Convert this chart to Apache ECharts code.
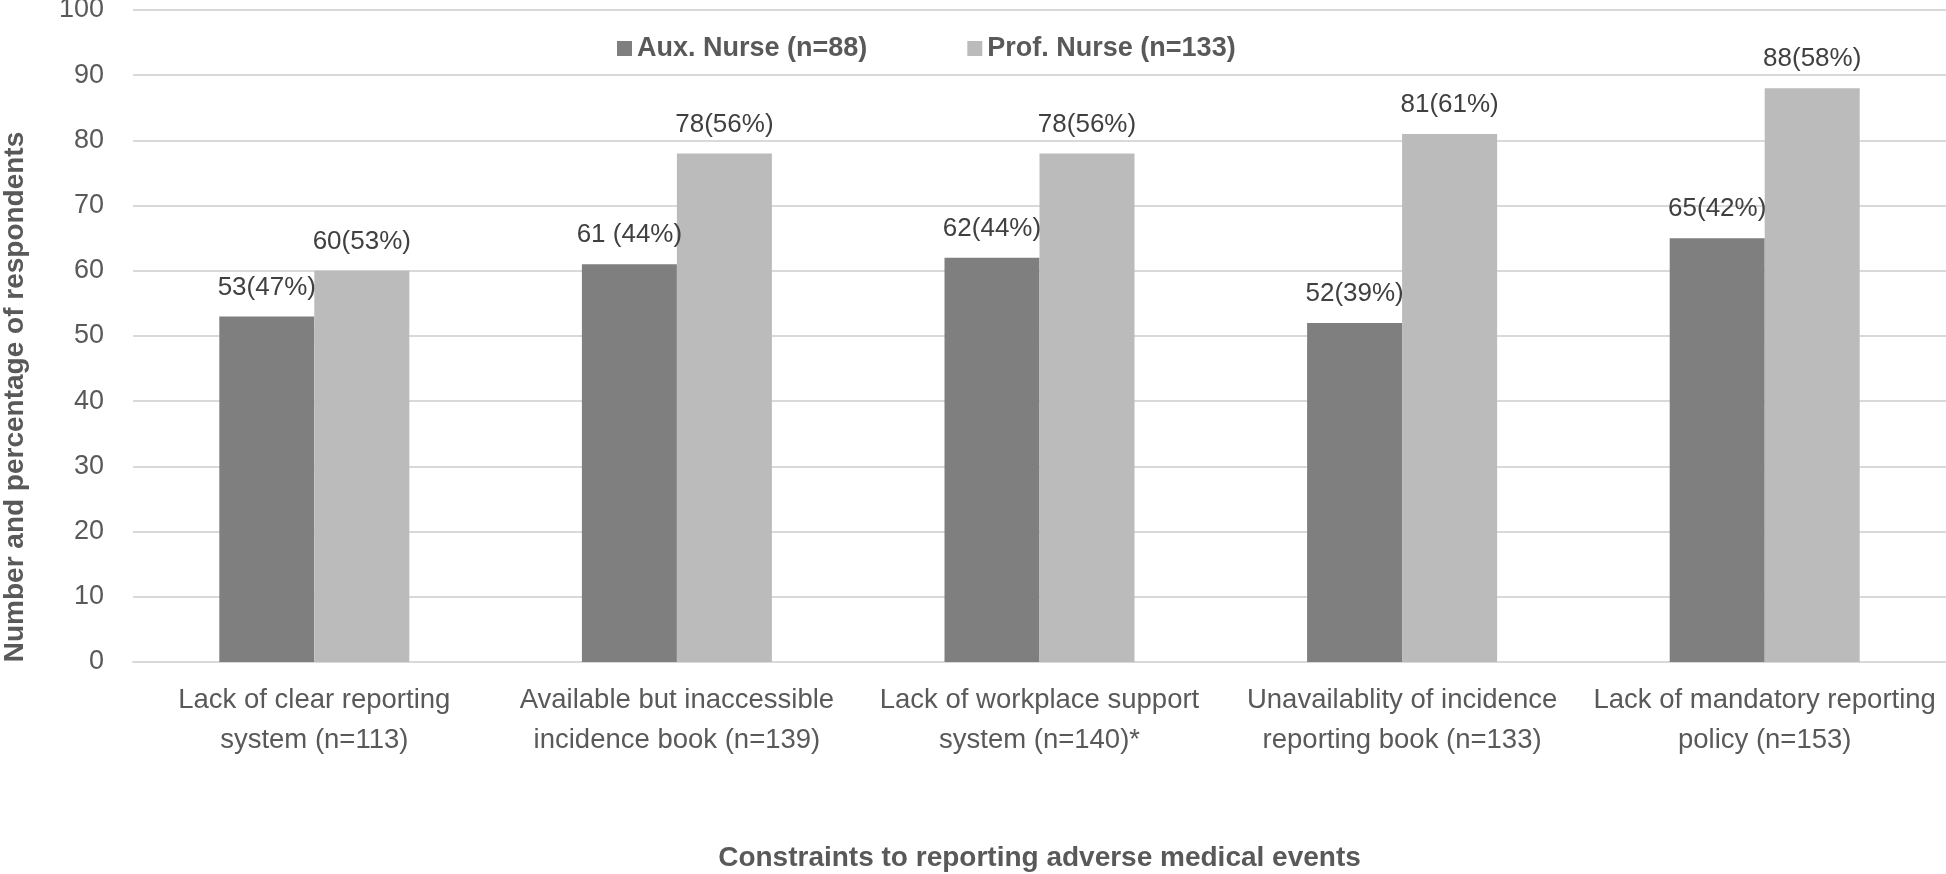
<!DOCTYPE html>
<html>
<head>
<meta charset="utf-8">
<script src="https://cdn.jsdelivr.net/npm/echarts@6/dist/echarts.min.js"></script>
<style>
html,body{margin:0;padding:0;background:#fff;}
#chart{width:1946px;height:874px;}
</style>
</head>
<body>
<div id="chart"></div>
<script>
const categories = [
  "Lack of clear reporting\nsystem (n=113)",
  "Available but inaccessible\nincidence book (n=139)",
  "Lack of workplace support\nsystem (n=140)*",
  "Unavailablity of incidence\nreporting book (n=133)",
  "Lack of mandatory reporting\npolicy (n=153)"
];
const auxName = "Aux. Nurse (n=88)";
const profName = "Prof. Nurse (n=133)";
const auxValues = [53, 61, 62, 52, 65];
const profValues = [60, 78, 78, 81, 88];
const auxLabels = ["53(47%)", "61 (44%)", "62(44%)", "52(39%)", "65(42%)"];
const profLabels = ["60(53%)", "78(56%)", "78(56%)", "81(61%)", "88(58%)"];
const yTicks = {min: 0, max: 100, interval: 10};
const xTitle = "Constraints to reporting adverse medical events";
const yTitle = "Number and percentage of respondents";

const FONT = "'Liberation Sans', Arial, sans-serif";
const chart = echarts.init(document.getElementById('chart'), null, {renderer: 'canvas'});
chart.setOption({
  animation: false,
  backgroundColor: '#ffffff',
  textStyle: {fontFamily: FONT},
  legend: {
    top: 30,
    left: 612,
    itemWidth: 15,
    itemHeight: 15,
    itemGap: 100,
    icon: 'rect',
    textStyle: {fontFamily: FONT, fontSize: 27, fontWeight: 'bold', color: '#595959'},
    data: [auxName, profName]
  },
  grid: {left: 133, right: 0, top: 10, bottom: 212, containLabel: false, outerBoundsMode: 'none'},
  graphic: [{
    type: 'text',
    x: 15, y: 397,
    rotation: Math.PI / 2,
    silent: true,
    style: {
      text: yTitle,
      fontFamily: FONT, fontSize: 28, fontWeight: 'bold', fill: '#595959',
      align: 'center', verticalAlign: 'middle'
    }
  }],
  xAxis: {
    type: 'category',
    data: categories,
    axisLine: {show: true, lineStyle: {color: '#d9d9d9', width: 2}},
    axisTick: {show: false},
    axisLabel: {fontFamily: FONT, fontSize: 27.5, color: '#595959', lineHeight: 40, margin: 18, interval: 0},
    name: xTitle,
    nameLocation: 'middle',
    nameGap: 182,
    nameTextStyle: {fontFamily: FONT, fontSize: 28, fontWeight: 'bold', color: '#595959'}
  },
  yAxis: {
    type: 'value',
    min: yTicks.min, max: yTicks.max, interval: yTicks.interval,
    axisLine: {show: false},
    axisTick: {show: false},
    splitLine: {lineStyle: {color: '#d9d9d9', width: 2}},
    axisLabel: {fontFamily: FONT, fontSize: 27, color: '#595959', margin: 29}
  },
  series: [
    {
      name: auxName, type: 'bar', data: auxValues,
      barGap: '0%', barCategoryGap: '47.6%',
      itemStyle: {color: '#7f7f7f'},
      label: {show: true, position: 'top', distance: 16, fontFamily: FONT, fontSize: 26, color: '#404040',
        formatter: p => auxLabels[p.dataIndex]}
    },
    {
      name: profName, type: 'bar', data: profValues,
      barGap: '0%', barCategoryGap: '47.6%',
      itemStyle: {color: '#bbbbbb'},
      label: {show: true, position: 'top', distance: 16, fontFamily: FONT, fontSize: 26, color: '#404040',
        formatter: p => profLabels[p.dataIndex]}
    }
  ]
});
</script>
</body>
</html>
